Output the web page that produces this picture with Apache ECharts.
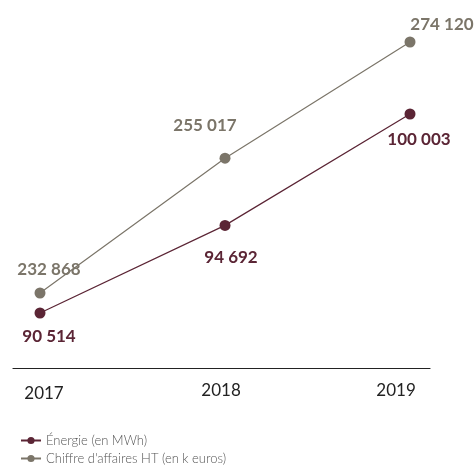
<!DOCTYPE html>
<html>
<head>
<meta charset="utf-8">
<script src="https://cdn.jsdelivr.net/npm/echarts@6/dist/echarts.min.js"></script>
<style>
  html, body { margin: 0; padding: 0; background: #fff; }
  #chart { width: 476px; height: 468px; }
</style>
</head>
<body>
<div id="chart"></div>
<script>
// données
const years = ['2017', '2018', '2019'];
const energieName = 'Énergie (en MWh)';
const energieValues = [90514, 94692, 100003];
const caName = "Chiffre d'affaires HT (en k euros)";
const caValues = [232868, 255017, 274120];

// décalage des étiquettes (px)
const energieLabelOffsets = [[9, 1], [6, 9], [9, 3]];
const caLabelOffsets = [[9, 0], [-20, -10], [32, 6]];

const colorEnergie = '#5b2535';
const colorCA = '#7b7569';
const font = 'Lato, "Open Sans", sans-serif';

function formatNumber(v) {
  return String(v).replace(/\B(?=(\d{3})+(?!\d))/g, ' ');
}

const chart = echarts.init(document.getElementById('chart'));

let option = {
  animation: false,
  textStyle: {fontFamily: font},
  grid: {
    left: 13,
    right: 46,
    top: 20,
    bottom: 100
  },
  legend: {
    orient: 'vertical',
    left: 20,
    top: 434,
    padding: 0,
    itemGap: 5,
    itemWidth: 20,
    itemHeight: 9,
    data: [energieName, caName],
    textStyle: {
      fontFamily: font,
      fontSize: 13,
      color: '#555',
      fontWeight: 300
    }
  },
  xAxis: {
    type: 'value',
    min: -0.146,
    max: 2.108,
    splitLine: {show: false},
    axisTick: {show: false},
    axisLine: {
      show: true,
      lineStyle: {color: '#222', width: 1.2}
    },
    axisLabel: {
      customValues: [0, 1, 2],
      formatter: function (v) {
        return '{y' + Math.round(v) + '|' + years[Math.round(v)] + '}';
      },
      margin: 14,
      fontSize: 17,
      color: '#222',
      fontFamily: font,
      rich: {
        y0: {fontSize: 17, color: '#222', fontFamily: font, padding: [3, 0, 0, 8]},
        y1: {fontSize: 17, color: '#222', fontFamily: font, padding: [0, 8, 0, 0]},
        y2: {fontSize: 17, color: '#222', fontFamily: font, padding: [0, 28, 0, 0]}
      }
    }
  },
  yAxis: [{
    type: 'value',
    min: 87891,
    max: 104486,
    show: false
  }, {
    type: 'value',
    min: 220543,
    max: 277735,
    show: false
  }],
  series: []
};

// série Chiffre d'affaires
option.series.push({
  name: caName,
  type: 'line',
  yAxisIndex: 1,
  symbol: 'circle',
  symbolSize: 11,
  lineStyle: {color: colorCA, width: 1.2},
  itemStyle: {color: colorCA},
  label: {
    show: true,
    position: 'top',
    distance: 9,
    fontSize: 17,
    fontWeight: 'bold',
    color: colorCA,
    fontFamily: font,
    formatter: function (p) {
      return formatNumber(p.value[1]);
    }
  },
  data: caValues.map(function (v, i) {
    return {value: [i, v], label: {offset: caLabelOffsets[i]}};
  })
});

// série Énergie
option.series.push({
  name: energieName,
  type: 'line',
  yAxisIndex: 0,
  symbol: 'circle',
  symbolSize: 11,
  lineStyle: {color: colorEnergie, width: 1.2},
  itemStyle: {color: colorEnergie},
  label: {
    show: true,
    position: 'bottom',
    distance: 9,
    fontSize: 17,
    fontWeight: 'bold',
    color: colorEnergie,
    fontFamily: font,
    formatter: function (p) {
      return formatNumber(p.value[1]);
    }
  },
  data: energieValues.map(function (v, i) {
    return {value: [i, v], label: {offset: energieLabelOffsets[i]}};
  })
});

chart.setOption(option);
</script>
</body>
</html>
